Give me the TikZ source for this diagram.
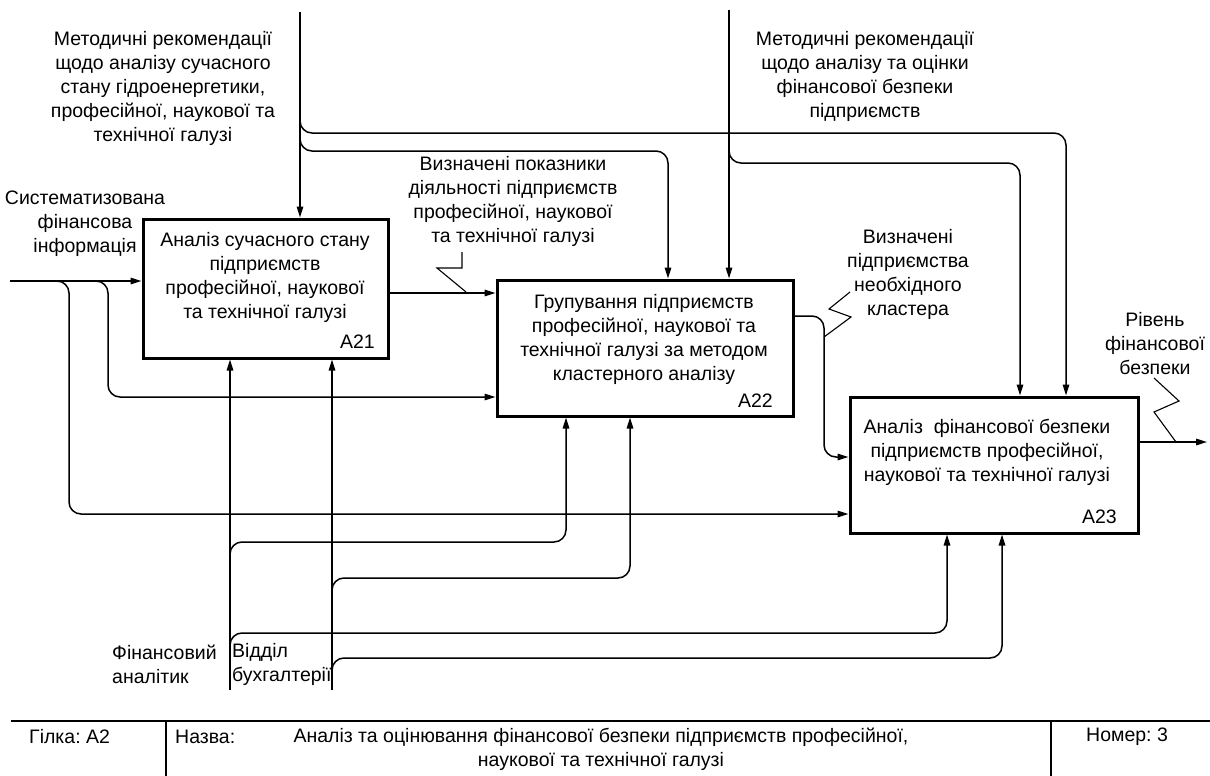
\documentclass[tikz,border=0pt]{standalone}
\usepackage{fontspec}
\setmainfont{Liberation Sans}
\usetikzlibrary{arrows.meta}
\frenchspacing
\begin{document}
\begin{tikzpicture}[x=1pt,y=-1pt,
  every node/.style={font=\fontsize{19.5}{24}\selectfont, inner sep=0pt},
  box/.style={draw, line width=3pt},
  flow/.style={line width=1.5pt, -{Triangle[length=11pt,width=6.5pt]}},
  flowr/.style={flow, rounded corners=12pt},
  zig/.style={line width=1.1pt},
  frame/.style={line width=2pt}]
\useasboundingbox (0,0) rectangle (1210,776);

% activity boxes
\node[box, minimum width=245pt, minimum height=139pt] (a21) at (265.5,288.5) {};
\node[box, minimum width=296pt, minimum height=136pt] (a22) at (645,348) {};
\node[box, minimum width=288pt, minimum height=136pt] (a23) at (994,465) {};

\node[align=center] (a21t) at (265,277) {Аналіз сучасного стану\\підприємств\\професійної, наукової\\та технічної галузі};
\node[anchor=base east] (a21n) at (375,348) {A21};
\node[align=center] (a22t) at (644,339) {Групування підприємств\\професійної, наукової та\\технічної галузі за методом\\кластерного аналізу};
\node[anchor=base east] (a22n) at (773,407) {A22};
\node[align=center] (a23t) at (987,452) {Аналіз\ \ фінансової безпеки\\підприємств професійної,\\наукової та технічної галузі};
\node[anchor=base east] (a23n) at (1117,523) {A23};

% arrow labels
\node[align=center] (lctl1) at (163,88) {Методичні рекомендації\\щодо аналізу сучасного\\стану гідроенергетики,\\професійної, наукової та\\технічної галузі};
\node[align=center] (lctl2) at (865,76) {Методичні рекомендації\\щодо аналізу та оцінки\\фінансової безпеки\\підприємств};
\node[align=center] (lin) at (85,224) {Систематизована\\фінансова\\інформація};
\node[align=center] (lo1) at (513,201) {Визначені показники\\діяльності підприємств\\професійної, наукової\\та технічної галузі};
\node[align=center] (lo2) at (908,274) {Визначені\\підприємства\\необхідного\\кластера};
\node[align=center] (lout) at (1155,344) {Рівень\\фінансової\\безпеки};
\node[align=left, anchor=west] (lm1) at (112,664) {Фінансовий\\аналітик};
\node[align=left, anchor=west] (lm2) at (232,664) {Відділ\\бухгалтерії};

% free ends and bend points
\coordinate (ctl1) at (300,12);
\coordinate (ctl2) at (729,10);
\coordinate (j1) at (300,133);
\coordinate (k1) at (1066,133);
\coordinate (j2) at (300,151);
\coordinate (k2) at (668,151);
\coordinate (j3) at (729,163);
\coordinate (k3) at (1020,163);
\coordinate (in1) at (10,281);
\coordinate (i1) at (69,281);
\coordinate (i1b) at (69,514);
\coordinate (i2) at (108,281);
\coordinate (i2b) at (108,397);
\coordinate (o1) at (0,293);
\coordinate (o2) at (824,316);
\coordinate (o2b) at (824,457);
\coordinate (out) at (1207,442);
\coordinate (mech1) at (230,690);
\coordinate (mech2) at (332,690);
\coordinate (m1a) at (230,542);
\coordinate (n1a) at (566,542);
\coordinate (m1b) at (230,633);
\coordinate (n1b) at (947,633);
\coordinate (m2a) at (332,578);
\coordinate (n2a) at (630,578);
\coordinate (m2b) at (332,658);
\coordinate (n2b) at (1002,658);

% controls
\draw[flow] (ctl1) -- (ctl1 |- a21.north);
\draw[flowr] ([yshift=18pt]j1) -- (j1) -- (k1) -- (k1 |- a23.north);
\draw[flowr] ([yshift=18pt]j2) -- (j2) -- (k2) -- (k2 |- a22.north);
\draw[flow] (ctl2) -- (ctl2 |- a22.north);
\draw[flowr] ([yshift=18pt]j3) -- (j3) -- (k3) -- (k3 |- a23.north);

% inputs
\draw[flow] (in1) -- (in1 -| a21.west);
\draw[flowr] ([xshift=-18pt]i2) -- (i2) -- (i2b) -- (i2b -| a22.west);
\draw[flowr] ([xshift=-18pt]i1) -- (i1) -- (i1b) -- (i1b -| a23.west);

% outputs
\draw[flow] (a21.east |- o1) -- (o1 -| a22.west);
\draw[flowr] (a22.east |- o2) -- (o2) -- (o2b) -- (o2b -| a23.west);
\draw[flow] (a23.east |- out) -- (out);

% mechanisms
\draw[flow] (mech1) -- (mech1 |- a21.south);
\draw[flow] (mech2) -- (mech2 |- a21.south);
\draw[flowr] ([yshift=-18pt]m1a) -- (m1a) -- (n1a) -- (n1a |- a22.south);
\draw[flowr] ([yshift=-18pt]m1b) -- (m1b) -- (n1b) -- (n1b |- a23.south);
\draw[flowr] ([yshift=-18pt]m2a) -- (m2a) -- (n2a) -- (n2a |- a22.south);
\draw[flowr] ([yshift=-18pt]m2b) -- (m2b) -- (n2b) -- (n2b |- a23.south);

% label leaders
\draw[zig] (462,252) -- (462,268) -- (437,268) -- (466,292);
\draw[zig] (850,292) -- (829,309) -- (851,317) -- (824,337);
\draw[zig] (1154,378) -- (1179,401) -- (1154,412) -- (1176,442);

% title block
\draw[frame] (11,721) -- (1210,721);
\draw[frame] (166,721) -- (166,776);
\draw[frame] (1051,721) -- (1051,776);
\node[anchor=west] (fnode) at (29,737) {Гілка: A2};
\node[anchor=west] (fname) at (175,737) {Назва:};
\node[align=center] (ftitle) at (601,749) {Аналіз та оцінювання фінансової безпеки підприємств професійної,\\наукової та технічної галузі};
\node[anchor=west] (fnum) at (1086,737) {Номер: 3};
\end{tikzpicture}
\end{document}
